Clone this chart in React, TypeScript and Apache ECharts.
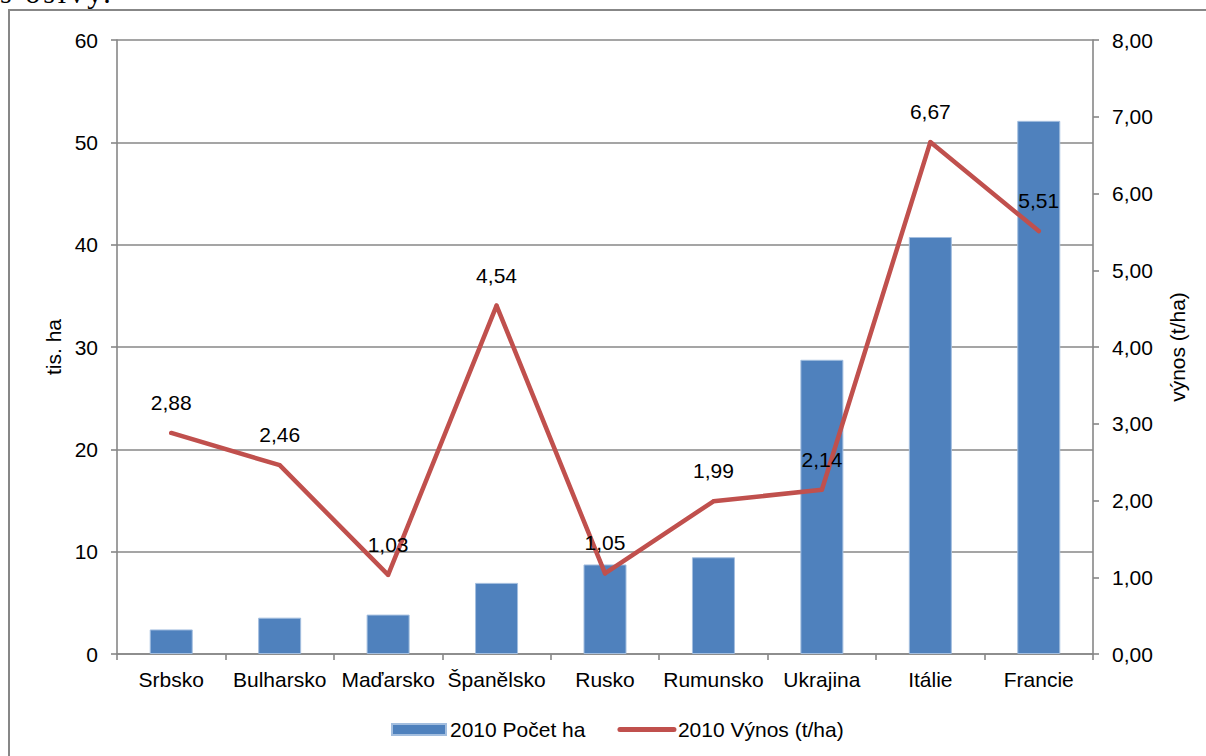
import React, { useEffect, useRef } from "react";
import * as echarts from "echarts";

const categories = ["Srbsko", "Bulharsko", "Maďarsko", "Španělsko", "Rusko", "Rumunsko", "Ukrajina", "Itálie", "Francie"];
const areaValues = [2.4, 3.55, 3.85, 6.95, 8.75, 9.45, 28.75, 40.75, 52.1];
const yieldValues = [2.88, 2.46, 1.03, 4.54, 1.05, 1.99, 2.14, 6.67, 5.51];
const seriesNames = ["2010 Počet ha", "2010 Výnos (t/ha)"];
const leftAxisName = "tis. ha";
const rightAxisName = "výnos (t/ha)";
const topText = "s osivy.";

const FONT = "'Liberation Sans', Arial, sans-serif";
const FS = 21;
const GRAY = "#878787";
const RED = "#C0504D";
const fmt2 = (v: number) => v.toFixed(2).replace(".", ",");

export default function App() {
  const ref = useRef<HTMLDivElement>(null);
  useEffect(() => {
    if (!ref.current) return;
    const chart = echarts.init(ref.current, null, { renderer: "svg" });
    chart.setOption({
      animation: false,
      textStyle: { fontFamily: FONT },
      grid: { left: 117, right: 113, top: 40, bottom: 102, containLabel: false },
      legend: {
        left: 386,
        top: 714,
        itemWidth: 54,
        itemHeight: 11,
        itemGap: 32,
        textStyle: { fontFamily: FONT, fontSize: FS, color: "#000", padding: [0, 0, 0, -1] },
        data: [
          { name: seriesNames[0], icon: "rect" },
          { name: seriesNames[1], itemStyle: { opacity: 0 }, lineStyle: { width: 5, color: RED, cap: "round" } },
        ],
      },
      xAxis: {
        type: "category",
        data: categories,
        boundaryGap: true,
        axisLine: { lineStyle: { color: GRAY, width: 1.6 } },
        axisTick: { show: true, length: 6, lineStyle: { color: GRAY, width: 1.6 } },
        axisLabel: { fontSize: FS, color: "#000", margin: 15, fontFamily: FONT, interval: 0 },
      },
      yAxis: [
        {
          type: "value",
          min: 0,
          max: 60,
          interval: 10,
          name: leftAxisName,
          nameLocation: "middle",
          nameRotate: 90,
          nameGap: 49,
          nameTextStyle: { fontSize: FS, color: "#000", fontFamily: FONT },
          axisLine: { show: true, lineStyle: { color: GRAY, width: 1.6 } },
          axisTick: { show: true, length: 6, lineStyle: { color: GRAY, width: 1.6 } },
          axisLabel: { fontSize: FS, color: "#000", margin: 19, fontFamily: FONT },
          splitLine: { show: true, lineStyle: { color: GRAY, width: 1.6 } },
        },
        {
          type: "value",
          min: 0,
          max: 8,
          interval: 1,
          position: "right",
          name: rightAxisName,
          nameLocation: "middle",
          nameRotate: 90,
          nameGap: 74,
          nameTextStyle: { fontSize: FS, color: "#000", fontFamily: FONT },
          axisLine: { show: true, lineStyle: { color: GRAY, width: 1.6 } },
          axisTick: { show: true, length: 6, lineStyle: { color: GRAY, width: 1.6 } },
          axisLabel: { fontSize: FS, color: "#000", margin: 19, fontFamily: FONT, formatter: (v: number) => fmt2(v) },
          splitLine: { show: false },
        },
      ],
      series: [
        {
          name: seriesNames[0],
          type: "bar",
          yAxisIndex: 0,
          data: areaValues,
          barWidth: 43,
          itemStyle: { color: "#4F81BD", borderColor: "#A3BEDF", borderWidth: 1 },
        },
        {
          name: seriesNames[1],
          type: "line",
          yAxisIndex: 1,
          data: yieldValues,
          symbol: "circle",
          symbolSize: 4,
          showSymbol: true,
          itemStyle: { color: RED },
          lineStyle: { color: RED, width: 4.5, cap: "round", join: "round" },
          label: {
            show: true,
            position: "top",
            distance: 18,
            fontSize: FS,
            color: "#000",
            fontFamily: FONT,
            formatter: (p: any) => fmt2(p.value),
          },
          z: 3,
        },
      ],
    });
    return () => chart.dispose();
  }, []);

  return (
    <div style={{ position: "fixed", left: 0, top: 0, width: 1206, height: 756, overflow: "hidden", background: "#fff" }}>
      <div
        style={{
          position: "absolute",
          left: 0,
          top: -22,
          fontFamily: "'Liberation Serif', 'Times New Roman', serif",
          fontSize: 30,
          lineHeight: "30px",
          letterSpacing: "3px",
          whiteSpace: "nowrap",
          color: "#000",
        }}
      >
        {topText}
      </div>
      <div
        style={{
          position: "absolute",
          left: 8,
          top: 9,
          width: 1400,
          height: 1000,
          border: `2px solid ${GRAY}`,
          boxSizing: "border-box",
        }}
      />
      <div ref={ref} style={{ position: "absolute", left: 0, top: 0, width: 1206, height: 756 }} />
    </div>
  );
}
